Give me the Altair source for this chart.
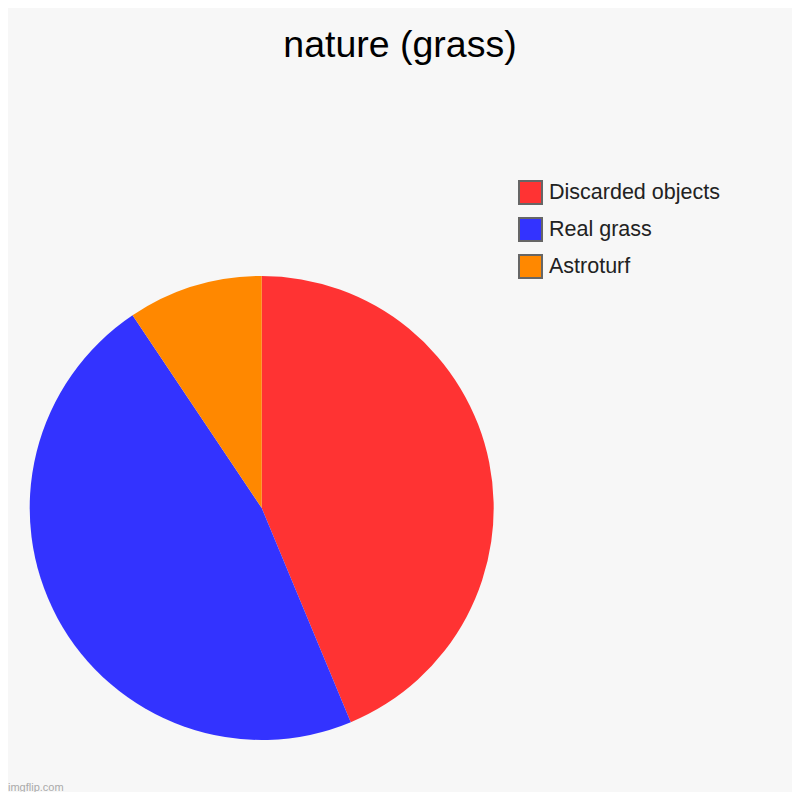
import altair as alt
import pandas as pd

categories = ["Discarded objects", "Real grass", "Astroturf"]
values = [43.75, 46.9, 9.4]
colors = ["#ff3333", "#3333ff", "#ff8800"]
title_text = "nature (grass)"
watermark = ["imgflip.com"]

df = pd.DataFrame({"category": categories, "value": values, "order": list(range(len(categories)))})

pie = alt.Chart(df).mark_arc(outerRadius=232, stroke=None).encode(
    theta=alt.Theta("value:Q", stack=True),
    order=alt.Order("order:Q"),
    color=alt.Color(
        "category:N",
        scale=alt.Scale(domain=categories, range=colors),
        sort=categories,
        legend=alt.Legend(
            title=None,
            orient="none",
            legendX=510,
            legendY=172,
            symbolType="square",
            symbolSize=529,
            symbolStrokeColor="#666666",
            symbolStrokeWidth=2,
            symbolOpacity=1,
            labelFont="Liberation Sans",
            labelFontSize=21.5,
            labelColor="#222222",
            labelOffset=6,
            labelLimit=400,
            rowPadding=6,
            padding=0,
        ),
    ),
    x=alt.value(253.7),
    y=alt.value(500),
)

wm = alt.Chart(pd.DataFrame({"t": watermark})).mark_text(
    font="Liberation Sans", fontSize=11, color="#aaaaaa", align="left", baseline="alphabetic"
).encode(text="t:N", x=alt.value(0), y=alt.value(783))

chart = alt.layer(pie, wm).properties(
    width=784,
    height=784,
    autosize=alt.AutoSizeParams(type="none"),
    padding=0,
    background="#f7f7f7",
    title=alt.TitleParams(
        text=title_text,
        font="Liberation Sans",
        fontSize=37.5,
        fontWeight="normal",
        color="#000000",
        anchor="middle",
        frame="group",
        baseline="alphabetic",
        offset=0,
        dy=86,
    ),
).configure_view(stroke=None)

chart.save("out.html", embed_options={"renderer": "svg", "actions": False})
